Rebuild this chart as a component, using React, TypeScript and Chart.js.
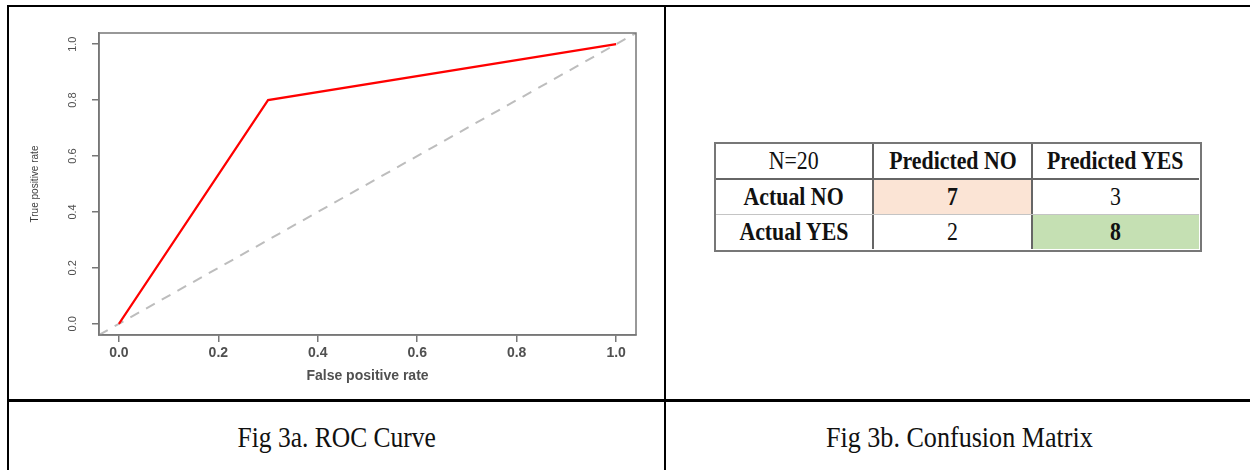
import React, { useEffect, useRef } from 'react';
import { Chart, registerables } from 'chart.js';

Chart.register(...registerables);

// ---- data ----
const fprValues = [0, 0.3, 1];
const tprValues = [0, 0.8, 1];
const chanceX = [-0.04, 1.04];
const chanceY = [-0.04, 1.04];
const axisTicks = [0, 0.2, 0.4, 0.6, 0.8, 1.0];
const axisTickLabels = ['0.0', '0.2', '0.4', '0.6', '0.8', '1.0'];
const xAxisTitle = 'False positive rate';
const yAxisTitle = 'True positive rate';
const matrixCorner = 'N=20';
const predictedLabels = ['Predicted NO', 'Predicted YES'];
const actualLabels = ['Actual NO', 'Actual YES'];
const matrixCounts = [
  [7, 3],
  [2, 8],
];
const captions = ['Fig 3a. ROC Curve', 'Fig 3b. Confusion Matrix'];

const SANS = '"Liberation Sans", Arial, Helvetica, sans-serif';
const SERIF = '"Liberation Serif", "Times New Roman", serif';
const AXIS_GRAY = '#777777';

const plotBox = {
  id: 'plotBox',
  afterDatasetsDraw(chart: any) {
    const { ctx, chartArea } = chart;
    const { left, top, right, bottom } = chartArea;
    ctx.save();
    ctx.strokeStyle = AXIS_GRAY;
    ctx.lineWidth = 1.5;
    ctx.strokeRect(left, top, right - left, bottom - top);
    ctx.restore();
  },
};

function RocChart() {
  const ref = useRef<HTMLCanvasElement | null>(null);
  useEffect(() => {
    if (!ref.current) return;
    const setTicks = (scale: any) => {
      scale.ticks = axisTicks.map((v) => ({ value: v }));
    };
    const chart = new Chart(ref.current, {
      type: 'line',
      data: {
        datasets: [
          {
            label: 'ROC',
            data: fprValues.map((x, i) => ({ x, y: tprValues[i] })),
            borderColor: '#ff0000',
            borderWidth: 2.2,
            pointRadius: 0,
            tension: 0,
            fill: false,
            order: 1,
          },
          {
            label: 'Chance',
            data: chanceX.map((x, i) => ({ x, y: chanceY[i] })),
            borderColor: '#bdbdbd',
            borderWidth: 2,
            borderDash: [10, 8],
            pointRadius: 0,
            tension: 0,
            fill: false,
            order: 2,
          },
        ],
      },
      options: {
        animation: false,
        responsive: false,
        devicePixelRatio: 1,
        layout: { padding: { top: 25, right: 27, left: 0, bottom: 0 } },
        plugins: {
          legend: { display: false },
          tooltip: { enabled: false },
          title: { display: false },
        },
        scales: {
          x: {
            type: 'linear',
            min: -0.04,
            max: 1.04,
            afterBuildTicks: setTicks,
            afterFit: (s: any) => {
              s.height = 64;
            },
            border: { display: true, color: AXIS_GRAY, width: 1.5 },
            grid: {
              display: true,
              drawOnChartArea: false,
              drawTicks: true,
              tickLength: 7,
              color: AXIS_GRAY,
              lineWidth: 1.5,
            },
            ticks: {
              autoSkip: false,
              maxRotation: 0,
              minRotation: 0,
              padding: 3,
              color: '#505050',
              font: { family: SANS, size: 14, weight: 'bold' },
              callback: (_v: any, i: number) => axisTickLabels[i],
            },
            title: {
              display: true,
              text: xAxisTitle,
              color: '#505050',
              font: { family: SANS, size: 14, weight: 'bold' },
              padding: { top: 0, bottom: 14 },
            },
          },
          y: {
            type: 'linear',
            min: -0.04,
            max: 1.04,
            afterBuildTicks: setTicks,
            afterFit: (s: any) => {
              s.width = 89;
            },
            border: { display: true, color: AXIS_GRAY, width: 1.5 },
            grid: {
              display: true,
              drawOnChartArea: false,
              drawTicks: true,
              tickLength: 7,
              color: AXIS_GRAY,
              lineWidth: 1.5,
            },
            ticks: {
              autoSkip: false,
              minRotation: 90,
              maxRotation: 90,
              crossAlign: 'center',
              padding: 11,
              color: '#505050',
              font: { family: SANS, size: 11 },
              callback: (_v: any, i: number) => axisTickLabels[i],
            },
            title: {
              display: true,
              text: yAxisTitle,
              color: '#404040',
              font: { family: SANS, size: 10 },
              padding: { top: 19, bottom: 0 },
            },
          },
        },
      } as any,
      plugins: [plotBox],
    });
    return () => chart.destroy();
  }, []);
  return (
    <canvas
      ref={ref}
      width={653}
      height={391}
      style={{ position: 'absolute', left: 10, top: 8, width: 653, height: 391 }}
    />
  );
}

const colEdges = [715, 873, 1032, 1199];
const rowEdges = [143, 179, 214, 249];

function Txt({ text, bold, size, sx }: { text: string; bold?: boolean; size: number; sx: number }) {
  return (
    <span
      style={{
        display: 'inline-block',
        transform: `scaleX(${sx})`,
        whiteSpace: 'nowrap',
        fontFamily: SERIF,
        fontSize: size,
        fontWeight: bold ? 'bold' : 'normal',
        color: '#111',
        lineHeight: 'normal',
      }}
    >
      {text}
    </span>
  );
}

function ConfusionMatrix() {
  const cells: { r: number; c: number; text: string; bold: boolean; bg: string }[] = [];
  cells.push({ r: 0, c: 0, text: matrixCorner, bold: false, bg: '#fff' });
  predictedLabels.forEach((p, j) => cells.push({ r: 0, c: j + 1, text: p, bold: true, bg: '#fff' }));
  actualLabels.forEach((a, i) => {
    cells.push({ r: i + 1, c: 0, text: a, bold: true, bg: '#fff' });
    matrixCounts[i].forEach((v, j) => {
      const diag = i === j;
      cells.push({
        r: i + 1,
        c: j + 1,
        text: String(v),
        bold: diag,
        bg: diag ? (i === 0 ? '#fbe4d5' : '#c5e0b3') : '#fff',
      });
    });
  });
  const L = colEdges[0];
  const T = rowEdges[0];
  const W = colEdges[3] - L;
  const H = rowEdges[3] - T;
  return (
    <>
      {cells.map((cell, k) => (
        <div
          key={k}
          style={{
            position: 'absolute',
            left: colEdges[cell.c],
            top: rowEdges[cell.r],
            width: colEdges[cell.c + 1] - colEdges[cell.c],
            height: rowEdges[cell.r + 1] - rowEdges[cell.r],
            background: cell.bg,
            display: 'flex',
            alignItems: 'center',
            justifyContent: 'center',
          }}
        >
          <Txt text={cell.text} bold={cell.bold} size={26} sx={0.84} />
        </div>
      ))}
      <div style={{ position: 'absolute', left: colEdges[1] - 1, top: T, width: 2, height: H, background: '#666' }} />
      <div style={{ position: 'absolute', left: colEdges[2] - 1, top: T, width: 2, height: H, background: '#666' }} />
      <div style={{ position: 'absolute', left: L, top: rowEdges[1] - 1, width: W, height: 2, background: '#666' }} />
      <div style={{ position: 'absolute', left: L, top: rowEdges[2], width: W, height: 1, background: '#c4c4c4' }} />
      <div
        style={{
          position: 'absolute',
          left: L - 1,
          top: T - 1,
          width: W,
          height: H,
          border: '2px solid #777',
        }}
      />
    </>
  );
}

export default function App() {
  return (
    <div
      style={{
        position: 'absolute',
        left: 0,
        top: 0,
        width: 1250,
        height: 470,
        overflow: 'hidden',
        background: '#fff',
      }}
    >
      <div style={{ position: 'absolute', left: 7, top: 5, width: 1260, height: 2, background: '#000' }} />
      <div style={{ position: 'absolute', left: 7, top: 5, width: 2, height: 480, background: '#000' }} />
      <div style={{ position: 'absolute', left: 664, top: 5, width: 2, height: 480, background: '#000' }} />
      <div style={{ position: 'absolute', left: 7, top: 399, width: 1260, height: 3, background: '#000' }} />

      <RocChart />
      <ConfusionMatrix />

      <div
        style={{
          position: 'absolute',
          left: 9,
          width: 655,
          top: 420,
          height: 30,
          display: 'flex',
          justifyContent: 'center',
          lineHeight: '30px',
        }}
      >
        <Txt text={captions[0]} size={30} sx={0.85} />
      </div>
      <div
        style={{
          position: 'absolute',
          left: 666,
          width: 586,
          top: 420,
          height: 30,
          display: 'flex',
          justifyContent: 'center',
          lineHeight: '30px',
        }}
      >
        <Txt text={captions[1]} size={30} sx={0.87} />
      </div>
    </div>
  );
}
